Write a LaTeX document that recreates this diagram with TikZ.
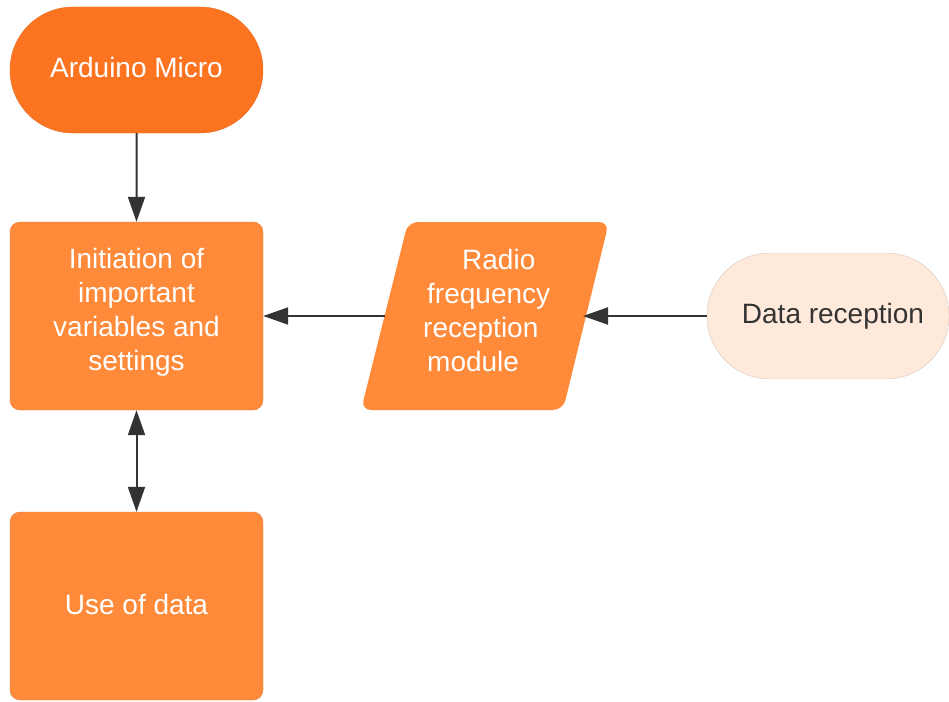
\documentclass[tikz,border=0pt]{standalone}
\usepackage{fontspec}
\setmainfont{Liberation Sans}
\usetikzlibrary{shapes.misc,arrows.meta}
\definecolor{darkor}{HTML}{FD7420}
\definecolor{boxor}{HTML}{FF8A3A}
\definecolor{paleor}{HTML}{FFE9DB}
\definecolor{linec}{HTML}{333333}
\begin{document}
\begin{tikzpicture}[x=1pt,y=-1pt,
  lbl/.style={font=\fontsize{28}{34}\selectfont, text=white, align=center, inner sep=0pt},
  boxst/.style={rectangle, rounded corners=10pt, fill=boxor, draw=boxor!90!black, line width=0.4pt, minimum width=253pt, minimum height=188pt},
  conn/.style={draw=linec, line width=2pt},
  tip/.tip={Triangle[width=17pt,length=25pt]}]
\useasboundingbox (0,0) rectangle (949,701);
% nodes
\node[rounded rectangle, fill=darkor, draw=darkor!90!black, line width=0.4pt, minimum width=253pt, minimum height=126pt, lbl] (ard) at (136.5,70) {\raisebox{6pt}{Arduino Micro}};
\node[boxst, label={[lbl, yshift=4pt]center:{Initiation of\\important\\variables and\\settings}}] (init) at (136.5,316) {};
\node[boxst, label={[lbl, yshift=2pt]center:Use of data}] (use) at (136.5,606) {};
\fill[boxor, rounded corners=10pt] (408,222) -- (609,222) -- (563,410) -- (361,410) -- cycle;
\node[lbl, align=left, anchor=west] (radio) at (423,310) {\hspace*{39pt}Radio\\\hspace*{4pt}frequency\\reception\\\hspace*{4pt}module};
\coordinate (radioL) at (384.5,316);
\coordinate (radioR) at (583,316);
\node[rounded rectangle, fill=paleor, draw=paleor!85!black, line width=0.4pt, minimum width=242pt, minimum height=126pt, font=\fontsize{28}{34}\selectfont, text=linec, inner sep=0pt] (data) at (828,316) {\hspace*{10pt}Data reception};
% connectors
\draw[conn, -tip] (ard) -- (init);
\draw[conn, -tip] (radioL) -- (init);
\draw[conn, -tip] (data) -- (radioR);
\draw[conn, tip-tip] (init) -- (use);
\end{tikzpicture}
\end{document}
